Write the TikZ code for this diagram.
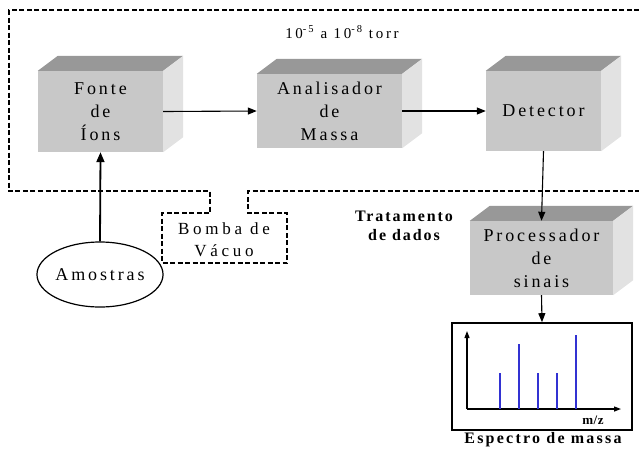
\documentclass[tikz,border=0pt]{standalone}
\usepackage{fontspec}
\setmainfont{Liberation Serif}[LetterSpace=16]
\usetikzlibrary{arrows.meta,shapes.geometric,calc}
\definecolor{frontc}{RGB}{200,200,200}
\definecolor{topc}{RGB}{152,152,152}
\definecolor{sidec}{RGB}{226,226,226}
\definecolor{peakc}{RGB}{50,50,210}
\newcommand{\depthfaces}[1]{%
  \fill[topc] (#1.north west) -- ++(20,-15) -- ($(#1.north east)+(20,-15)$) -- (#1.north east) -- cycle;
  \fill[sidec] (#1.north east) -- ++(20,-15) -- ($(#1.south east)+(20,-15)$) -- (#1.south east) -- cycle;
}
\tikzset{
  cube/.style={rectangle, fill=frontc, inner sep=0pt, align=center, font=\fontsize{18}{23}\selectfont},
  conn/.style={line width=1.1pt, -{Triangle[length=9pt,width=7pt]}},
  vac/.style={line width=1.8pt, dash pattern=on 5pt off 2.5pt},
  lbl/.style={align=center, inner sep=0pt},
}
\begin{document}
\begin{tikzpicture}[x=1pt,y=-1pt]
\useasboundingbox (0,0) rectangle (639,448);
% vacuum boundary
\draw[vac] (639,10) -- (9,10) -- (9,191) -- (210,191) -- (210,213) -- (162,213) -- (162,263) -- (287,263) -- (287,213) -- (248,213) -- (248,191) -- (639,191);
\node[lbl, font=\fontsize{17}{22}\selectfont\addfontfeatures{LetterSpace=22}] (bomba) at (224,240) {Bomba de\\Vácuo};
\node[lbl, font=\fontsize{15}{16}\selectfont\addfontfeatures{LetterSpace=18}] (torr) at (342,32) {10\textsuperscript{-5} a 10\textsuperscript{-8} torr};
\node[lbl, font=\bfseries\fontsize{16}{19}\selectfont\addfontfeatures{LetterSpace=12}] (trat) at (404,226) {Tratamento\\de dados};
% boxes
\node[cube, minimum width=125pt, minimum height=81pt] (fonte) at (100.5,111.5) {Fonte\\de\\Íons};
\depthfaces{fonte}
\node[cube, minimum width=145pt, minimum height=74pt] (ana) at (329.5,111) {Analisador\\de\\Massa};
\depthfaces{ana}
\node[cube, minimum width=115pt, minimum height=80pt] (det) at (543.5,111) {Detector};
\depthfaces{det}
\node[cube, minimum width=143pt, minimum height=74pt] (proc) at (541.5,258) {Processador\\de\\sinais};
\depthfaces{proc}
% samples
\node[ellipse, draw, line width=1.2pt, minimum width=115pt, minimum height=65pt, inner sep=0pt, font=\fontsize{18}{20}\selectfont] (amostras) at (100,274.5) {Amostras};
% spectrum
\node[rectangle, draw, line width=1.6pt, minimum width=180pt, minimum height=107pt, inner sep=0pt] (spec) at (542,376.5) {};
\coordinate (orig) at (467,409);
\coordinate (ytop) at (467,331);
\coordinate (xend) at (621,409);
\draw[line width=1.2pt, -{Triangle[length=7pt,width=5pt]}] (orig) -- (ytop);
\draw[line width=1.2pt, -{Triangle[length=7pt,width=5pt]}] (orig) -- (xend);
\foreach \px/\py in {500/373, 519/344, 538/373, 557/373, 576/335}
  \draw[peakc, line width=1.5pt] (\px,409) -- (\px,\py);
\node[lbl, font=\bfseries\fontsize{13}{14}\selectfont\addfontfeatures{LetterSpace=5}] (mz) at (593,420) {m/z};
\node[lbl, font=\bfseries\fontsize{16}{18}\selectfont\addfontfeatures{LetterSpace=14}] (esp) at (543,440) {Espectro de massa};
% connectors
\draw[line width=1.8pt, -{Triangle[length=10pt,width=8pt]}] (amostras.north) -- (fonte.south);
\draw[conn] (fonte.east) -- (ana.west);
\draw[conn] (ana.east) -- (det.west);
\draw[conn] (det.south) -- (proc.north);
\draw[conn] (proc.south) -- (spec.north);
\end{tikzpicture}
\end{document}
